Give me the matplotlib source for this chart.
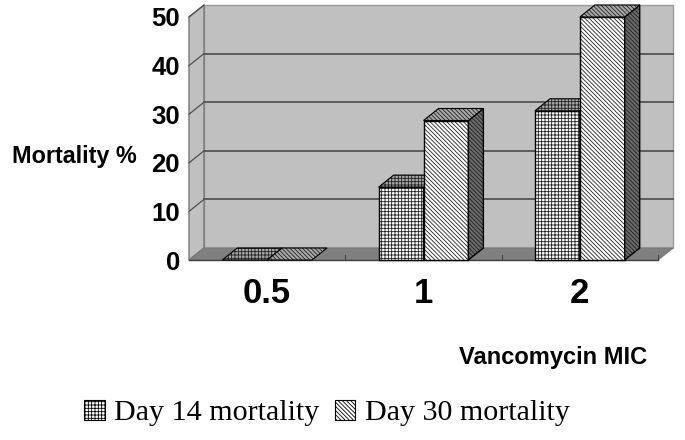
import matplotlib
matplotlib.use("Agg")
import matplotlib.pyplot as plt
from matplotlib.patches import Polygon, Patch

# values
mic_labels = ['0.5', '1', '2']
day14 = [0, 15, 30.7]
day30 = [0, 28.7, 50]
yticks = [0, 10, 20, 30, 40, 50]
series_names = ['Day 14 mortality', 'Day 30 mortality']

W, H = 685, 440
bar_w = 0.287
dx = 0.096   # depth of the 3d box, data units
dy = 2.47
wall = '#c0c0c0'
floor = '#808080'
side = '#6a6a6a'
top_col = '#a8a8a8'
hatch14 = '+++++'
hatch30 = '\\' * 8

plt.rcParams['hatch.linewidth'] = 0.6
plt.rcParams['font.family'] = ['Liberation Sans', 'DejaVu Sans']

fig = plt.figure(figsize=(W / 100, H / 100), dpi=100)
ax = fig.add_axes([189 / W, 1 - 260 / H, (658 - 189) / W, (260 - 17) / H])
ax.set_xlim(0, 3)
ax.set_ylim(0, 50)
for s in ax.spines.values():
    s.set_visible(False)
ax.patch.set_visible(False)


def poly(pts, fc, ec='black', lw=0.8, hatch=None, z=1):
    if hatch:
        # hatch takes the edge colour, so draw the fill and the outline apart
        ax.add_patch(Polygon(pts, closed=True, fc=fc, ec='#222222', lw=0, hatch=hatch, zorder=z, clip_on=False))
        ax.add_patch(Polygon(pts, closed=True, fc='none', ec=ec, lw=lw, zorder=z, clip_on=False))
    else:
        ax.add_patch(Polygon(pts, closed=True, fc=fc, ec=ec, lw=lw, zorder=z, clip_on=False))


def bar3d(x0, val, hatch, z):
    x1 = x0 + bar_w
    if val > 0:
        poly([(x0, 0), (x1, 0), (x1, val), (x0, val)], 'white', hatch=hatch, z=z, lw=1.0)
        poly([(x1, 0), (x1 + dx, dy), (x1 + dx, val + dy), (x1, val)], side, hatch=hatch, z=z, lw=1.0)
    poly([(x0, val), (x1, val), (x1 + dx, val + dy), (x0 + dx, val + dy)], top_col, hatch=hatch, z=z, lw=0.8)


# walls and floor
poly([(dx, dy), (3 + dx, dy), (3 + dx, 50 + dy), (dx, 50 + dy)], wall, ec='#999999', lw=1.0, z=1)
poly([(0, 0), (dx, dy), (dx, 50 + dy), (0, 50)], wall, ec='#777777', lw=1.0, z=1)
poly([(0, 0), (3, 0), (3 + dx, dy), (dx, dy)], floor, ec='#777777', lw=0.8, z=1)

# grid on the walls
for t in yticks[1:-1]:
    ax.plot([dx, 3 + dx], [t + dy, t + dy], color='#5c5c5c', lw=1.4, zorder=2, clip_on=False)
for t in yticks[1:]:
    ax.plot([0, dx], [t, t + dy], color='#505050', lw=0.9, zorder=2, clip_on=False)
ax.plot([0, 3], [0, 0], color='#404040', lw=1.0, zorder=2, clip_on=False)

for i in range(len(mic_labels)):
    center = i + 0.5
    bar3d(center - bar_w, day14[i], hatch14, 3)
    bar3d(center, day30[i], hatch30, 4)

# axis text
ax.set_xticks([0.5, 1.5, 2.5], mic_labels, fontsize=25, fontweight='bold')
ax.set_yticks(yticks, [str(t) for t in yticks], fontsize=18.5, fontweight='bold')
ax.tick_params(axis='x', length=0, pad=12)
ax.tick_params(axis='y', length=0, pad=6.5)
for x in [1, 2, 3]:
    ax.plot([x, x], [0, 1.1], color='#404040', lw=0.8, zorder=2, clip_on=False)

fig.text(12 / W, 1 - 157 / H, 'Mortality %', fontsize=16.8, fontweight='bold', va='center', ha='left')
fig.text(459 / W, 1 - 357 / H, 'Vancomycin MIC', fontsize=17, fontweight='bold', va='center', ha='left')

handles = [Patch(fc='white', ec='black', hatch=hatch14, lw=0.8),
           Patch(fc='white', ec='black', hatch=hatch30, lw=0.8)]
fig.legend(handles, series_names, loc='center', bbox_to_anchor=(327 / W, 1 - 413 / H), ncol=2, frameon=False,
           prop={'family': 'Liberation Serif', 'size': 21.6}, handlelength=0.67, handleheight=0.67,
           handletextpad=0.33, columnspacing=0.5, borderpad=0, borderaxespad=0)

fig.savefig('out.png', dpi=100)
